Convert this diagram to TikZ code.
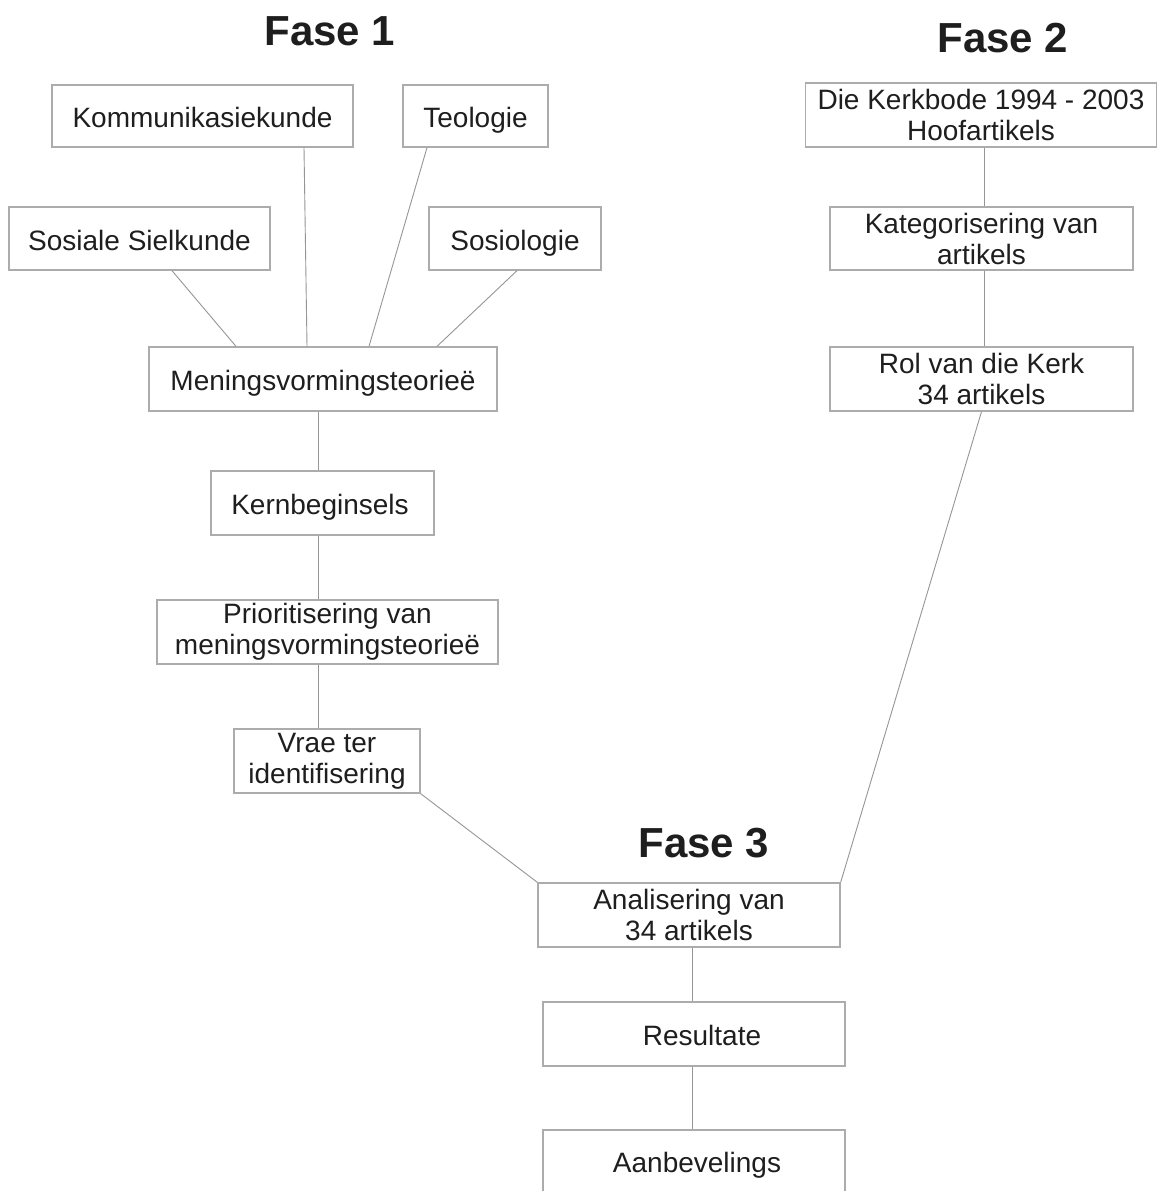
\documentclass[tikz,border=0pt]{standalone}
\usepackage{fontspec}
\setmainfont{Liberation Sans}
\definecolor{boxgray}{RGB}{172,172,172}
\definecolor{linegray}{RGB}{150,150,150}
\definecolor{textblack}{RGB}{30,30,30}
\begin{document}
\begin{tikzpicture}[x=1pt,y=-1pt,
  box/.style={draw=boxgray, line width=1.3pt, fill=white, inner sep=0pt,
    align=center, text=textblack, font=\fontsize{28}{31}\selectfont},
  oneline/.style={text height=23pt, text depth=0pt},
  link/.style={draw=linegray, line width=0.9pt},
  phase/.style={text=textblack, font=\fontsize{42}{48}\selectfont\bfseries}]
\useasboundingbox[fill=white] (0,0) rectangle (1157,1191);

% phase headings
\node[phase] (fase1) at (330,31) {Fase 1};
\node[phase] (fase2) at (1003,38) {Fase 2};
\node[phase] (fase3) at (704,843) {Fase 3};

% phase 1: theory
\node[box, oneline, minimum width=301pt, minimum height=62pt] (komm) at (202.5,116) {Kommunikasiekunde};
\node[box, oneline, minimum width=145pt, minimum height=62pt] (teo) at (475.5,116) {Teologie};
\node[box, oneline, minimum width=261pt, minimum height=63pt] (sos) at (139.5,238.5) {Sosiale Sielkunde};
\node[box, oneline, minimum width=172pt, minimum height=63pt] (sosio) at (515,238.5) {Sosiologie};
\node[box, oneline, minimum width=348pt, minimum height=64pt] (menings) at (323,379) {Meningsvormingsteorieë};
\node[box, oneline, minimum width=223pt, minimum height=64pt] (kern) at (322.5,503) {\hspace*{-5pt}Kernbeginsels};
\node[box, minimum width=341pt, minimum height=64pt] (prior) at (327.5,632) {Prioritisering van\\meningsvormingsteorieë};
\node[box, minimum width=186pt, minimum height=64pt] (vrae) at (327,761) {Vrae ter\\identifisering};

% phase 2: articles
\node[box, minimum width=351pt, minimum height=64pt] (kerk) at (981,115) {Die Kerkbode 1994 - 2003\\Hoofartikels};
\node[box, minimum width=303pt, minimum height=63pt] (kat) at (981.5,238.5) {Kategorisering van\\artikels};
\node[box, minimum width=303pt, minimum height=64pt] (rol) at (981.5,379) {Rol van die Kerk\\34 artikels};

% phase 3: analysis
\node[box, minimum width=302pt, minimum height=64pt] (anal) at (689,915) {Analisering van\\34 artikels};
\node[box, oneline, minimum width=302pt, minimum height=64pt] (res) at (694,1034) {\hspace*{16pt}Resultate};
\node[box, oneline, minimum width=302pt, minimum height=62pt] (aan) at (694,1161) {\hspace*{6pt}Aanbevelings};

% connectors
\draw[link] ([xshift=101.5pt]komm.south) -- ([xshift=-16pt]menings.north);
\draw[link] ([xshift=-48.5pt]teo.south) -- ([xshift=46pt]menings.north);
\draw[link] ([xshift=32.5pt]sos.south) -- ([xshift=-87pt]menings.north);
\draw[link] ([xshift=2pt]sosio.south) -- ([xshift=114pt]menings.north);
\draw[link] ([xshift=-5pt]menings.south) -- ([xshift=-4.5pt]kern.north);
\draw[link] ([xshift=-4.5pt]kern.south) -- ([xshift=-9.5pt]prior.north);
\draw[link] ([xshift=-9.5pt]prior.south) -- ([xshift=-9pt]vrae.north);
\draw[link] (vrae.south east) -- (anal.north west);
\draw[link] ([xshift=3pt]kerk.south) -- ([xshift=2.5pt]kat.north);
\draw[link] ([xshift=2.5pt]kat.south) -- ([xshift=2.5pt]rol.north);
\draw[link] (rol.south) -- (anal.north east);
\draw[link] ([xshift=3pt]anal.south) -- ([xshift=-2pt]res.north);
\draw[link] ([xshift=-2pt]res.south) -- ([xshift=-2pt]aan.north);
\end{tikzpicture}
\end{document}
